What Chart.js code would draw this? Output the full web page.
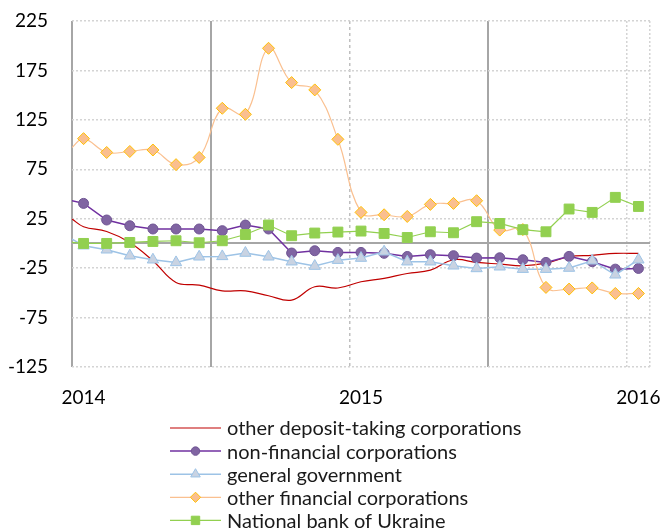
<!DOCTYPE html>
<html lang="en">
<head>
<meta charset="UTF-8">
<title>Deposits by sector</title>
<script src="https://cdn.jsdelivr.net/npm/chart.js"></script>
<style>
  html, body { margin: 0; padding: 0; background: #fff; }
  #wrap { width: 662px; height: 528px; }
</style>
</head>
<body>
<div id="wrap"><canvas id="chart" width="662" height="528"></canvas></div>
<script>
// months with data (mid-month points), x axis counts months from Jan 2014
const months = ['2014-01','2014-02','2014-03','2014-04','2014-05','2014-06','2014-07','2014-08','2014-09',
  '2014-10','2014-11','2014-12','2015-01','2015-02','2015-03','2015-04','2015-05','2015-06','2015-07',
  '2015-08','2015-09','2015-10','2015-11','2015-12','2016-01'];
const yearLabels = ['2014', '2015', '2016'];
const yTicks = [-125, -75, -25, 25, 75, 125, 175, 225];

const seriesNames = ['other deposit-taking corporations', 'non-financial corporations',
  'general government', 'other financial corporations', 'National bank of Ukraine'];

// value at the left edge of the plot (start of 2014), same order as seriesNames
const edgeValues = [24.7, 43.2, 4.4, 97, 1];

const otherDeposit = [16.9, 12.1, 1, -17.5, -39.5, -42.1, -47.9, -47.9, -52.9, -57.3, -43.8, -45.1,
  -38.8, -35.4, -30.4, -27, -16.5, -19.2, -20.9, -22.6, -20, -13.5, -12, -10.1, -10.1];
const nonFinancial = [40.5, 23.7, 17.9, 14.6, 14.6, 14.6, 12.9, 18.6, 14.6, -9.7, -7.4, -9.1,
  -9.1, -10, -13.2, -11.4, -12.4, -14.8, -14.5, -16.5, -19.2, -13.1, -18.5, -26, -25.3];
const generalGov = [-2.3, -6.4, -12.4, -16.5, -19.2, -13.5, -13.1, -9.7, -13.5, -18.5, -22.9, -16.9,
  -14.8, -8.4, -18.5, -18.5, -22.6, -25.3, -23.6, -26, -26, -24.9, -17.5, -31.7, -16.5];
const otherFinancial = [106, 92, 93, 94.5, 79.7, 87, 136.7, 130.6, 197.4, 162.7, 155.3, 105.3,
  31.4, 29, 27.3, 39.5, 40.5, 43.2, 13.5, 14, -44.5, -46.2, -45, -50.6, -50.6];
const nationalBank = [0, 0, 1, 2, 2.7, 0.7, 2.7, 9, 18.6, 7.8, 10.5, 11.5,
  12.5, 10.1, 6, 11.8, 10.8, 22, 20.2, 13.9, 11.8, 34.8, 31.4, 46.6, 37.4];

const allValues = [otherDeposit, nonFinancial, generalGov, otherFinancial, nationalBank];

const styles = [
  { line: '#c00000', width: 1.2, point: false,     radius: 0,   fill: '#c00000', border: '#c00000', tension: 0.4 },
  { line: '#7030a0', width: 1.5, point: 'circle',  radius: 5,   fill: '#8064a2', border: '#6f5593', tension: 0 },
  { line: '#9dc3e6', width: 1.5, point: 'triangle',radius: 6.5, fill: '#c9d3e2', border: '#9dc3e6', tension: 0 },
  { line: '#fac090', width: 1.2, point: 'rectRot', radius: 6,   fill: '#fabf8f', border: '#ffc000', tension: 0.4 },
  { line: '#92d050', width: 1.2, point: 'rect',    radius: 7,   fill: '#92d050', border: '#92d050', tension: 0 }
];

function toPoints(edge, vals) {
  const pts = [{ x: 0, y: edge }];
  months.forEach((m, i) => pts.push({ x: i + 0.5, y: vals[i] }));
  return pts;
}

const datasets = allValues.map((vals, i) => {
  const s = styles[i];
  return {
    label: seriesNames[i],
    data: toPoints(edgeValues[i], vals),
    borderColor: s.line,
    borderWidth: s.width,
    tension: s.tension,
    pointStyle: s.point || 'circle',
    pointRadius: (c) => (!s.point || c.dataIndex === 0) ? 0 : s.radius,
    pointBackgroundColor: s.fill,
    pointBorderColor: s.border,
    pointBorderWidth: 1,
    order: 4 - i
  };
});

// thick zero line under the series
const zeroLine = {
  id: 'zeroLine',
  beforeDatasetsDraw(chart) {
    const { ctx, chartArea, scales } = chart;
    const y = Math.round(scales.y.getPixelForValue(0));
    ctx.save();
    ctx.strokeStyle = '#a6a6a6';
    ctx.lineWidth = 2;
    ctx.beginPath();
    ctx.moveTo(chartArea.left, y);
    ctx.lineTo(chartArea.right, y);
    ctx.stroke();
    ctx.restore();
  }
};

// legend below the plot: line with marker, then the name
const lineLegend = {
  id: 'lineLegend',
  afterDraw(chart) {
    const ctx = chart.ctx;
    ctx.save();
    ctx.font = '20px Lato';
    ctx.textBaseline = 'middle';
    seriesNames.forEach((name, i) => {
      const s = styles[i];
      const y = 428 + i * 23.1;
      ctx.strokeStyle = s.line;
      ctx.lineWidth = s.width;
      ctx.beginPath();
      ctx.moveTo(170, y);
      ctx.lineTo(221, y);
      ctx.stroke();
      if (s.point) {
        ctx.fillStyle = s.fill;
        ctx.strokeStyle = s.border;
        ctx.lineWidth = 1;
        Chart.helpers.drawPoint(ctx, { pointStyle: s.point, radius: s.radius * 0.85, rotation: 0, borderWidth: 1 }, 195.5, y);
      }
      ctx.fillStyle = '#1a1a1a';
      ctx.fillText(name, 227, y + 1);
    });
    ctx.restore();
  }
};

Chart.defaults.font.family = 'Lato';
Chart.defaults.color = '#000';

new Chart(document.getElementById('chart'), {
  type: 'line',
  data: { datasets },
  options: {
    responsive: false,
    animation: false,
    events: [],
    layout: { padding: { top: 21, right: 12, bottom: 116, left: 0 } },
    plugins: { legend: { display: false }, tooltip: { enabled: false } },
    scales: {
      x: {
        type: 'linear',
        min: 0,
        max: 25,
        afterBuildTicks: (scale) => { scale.ticks = [0, 6, 12, 18, 24, 25].map(v => ({ value: v })); },
        afterFit: (scale) => {
          scale.height = 45;
          scale.paddingLeft = 0;
          scale.paddingRight = 0;
        },
        ticks: {
          autoSkip: false,
          maxRotation: 0,
          padding: 19,
          labelOffset: 11.5,
          font: { size: 19 },
          callback: (v) => (v % 12 === 0 && v <= 24) ? yearLabels[v / 12] : ''
        },
        grid: {
          drawTicks: false,
          color: (c) => {
            const v = c.tick.value;
            if (v === 0 || v === 6 || v === 18) return '#a6a6a6';
            if (v === 12) return '#bfbfbf';
            return '#d4d4d4';
          },
          lineWidth: (c) => {
            const v = c.tick.value;
            return (v === 0 || v === 6 || v === 18) ? 2 : 1.5;
          }
        },
        border: {
          display: false,
          dash: (c) => {
            const v = c.tick.value;
            if (v === 12) return [3, 3];
            if (v === 24 || v === 25) return [2, 2];
            return [];
          }
        }
      },
      y: {
        min: -125,
        max: 225,
        afterBuildTicks: (scale) => { scale.ticks = yTicks.map(v => ({ value: v })); },
        afterFit: (scale) => {
          scale.width = 72;
          scale.paddingTop = 0;
          scale.paddingBottom = 0;
        },
        ticks: { padding: 24, font: { size: 19 } },
        grid: { drawTicks: false, color: '#d4d4d4', lineWidth: 1.5 },
        border: { display: false, dash: [2, 2] }
      }
    }
  },
  plugins: [zeroLine, lineLegend]
});
</script>
</body>
</html>
